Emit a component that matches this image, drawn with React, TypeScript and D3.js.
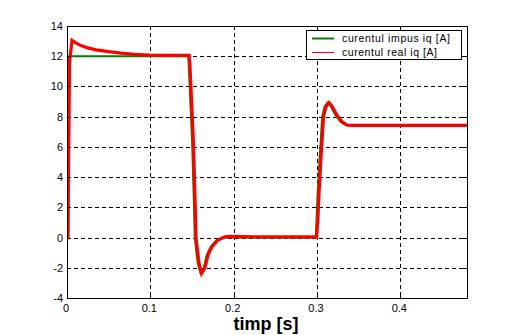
import React from "react";
import * as d3 from "d3";

// time axis and tick values
const xTicks = [0, 0.1, 0.2, 0.3, 0.4];
const yTicks = [-4, -2, 0, 2, 4, 6, 8, 10, 12, 14];

// curentul impus iq [A] (reference)
const tImpus = [0, 0.0015, 0.0015, 0.1455, 0.1462, 0.1485, 0.1503, 0.1521, 0.1533, 0.1545, 0.1569,
    0.1599, 0.1641, 0.1677, 0.1725, 0.1797, 0.188, 0.2985, 0.2996, 0.3008, 0.3020, 0.3032, 0.3044,
    0.3062, 0.3090, 0.3126, 0.3162, 0.3222, 0.3282, 0.3342, 0.3402, 0.48];
const iImpus = [0, 0, 12, 12, 11.3, 8.4, 6.1, 2.6, 0.05, -0.6, -1.7,
    -2.3, -2.0, -1.15, -0.6, -0.16, 0.0, 0.0, 1.38, 2.93, 4.03, 5.35, 6.34,
    8.0, 8.66, 8.93, 8.7, 8.1, 7.67, 7.45, 7.42, 7.42];

// curentul real iq [A] (measured)
const tReal = [0, 0.0012, 0.0012, 0.003, 0.003, 0.006, 0.010, 0.016, 0.025, 0.035, 0.050, 0.065,
    0.080, 0.100, 0.120, 0.1465, 0.1476, 0.1500, 0.1518, 0.1536, 0.1548, 0.1560, 0.1584, 0.1614,
    0.1656, 0.1692, 0.1740, 0.1812, 0.1896, 0.1956, 0.230, 0.270, 0.2996, 0.3012, 0.3024, 0.3036,
    0.3048, 0.3060, 0.3078, 0.3108, 0.3144, 0.3180, 0.3240, 0.3300, 0.3360, 0.3420, 0.380, 0.430, 0.480];
const iReal = [0, 0, 0.5, 11.6, 11.6, 13.05, 12.9, 12.72, 12.55, 12.42, 12.3, 12.2,
    12.12, 12.07, 12.05, 12.05, 11.3, 8.4, 6.1, 2.6, 0.05, -0.6, -1.7, -2.37,
    -2.0, -1.15, -0.6, -0.16, 0.05, 0.08, 0.05, 0.05, 0.05, 1.38, 2.93, 4.03,
    5.35, 6.34, 8.0, 8.66, 8.93, 8.7, 8.1, 7.67, 7.45, 7.42, 7.42, 7.42, 7.42];

const legendLabels = ["curentul impus iq [A]", "curentul real iq [A]"];
const legendColors = ["#008000", "#ff0000"];
const legendWidths = [108, 95];

const W = 516, H = 335;
const left = 67, right = 467, top = 26, bottom = 298;

export default function App() {
    const x = d3.scaleLinear().domain([0, 0.48]).range([left, right]);
    const y = d3.scaleLinear().domain([-4, 14]).range([bottom, top]);

    const line = d3.line<[number, number]>()
        .x(d => x(d[0]))
        .y(d => y(d[1]));

    const impus = tImpus.map((t, i) => [t, iImpus[i]] as [number, number]);
    const real = tReal.map((t, i) => [t, iReal[i]] as [number, number]);

    const font = "Arial, 'Liberation Sans', sans-serif";

    return (
        <svg width={W} height={H} style={{position: "absolute", left: 0, top: 0, background: "#fff"}}>
            <defs>
                <clipPath id="plot">
                    <rect x={left} y={top} width={right - left} height={bottom - top}/>
                </clipPath>
            </defs>
            <rect x={0} y={0} width={W} height={H} fill="#fff"/>
            {/* grid */}
            {xTicks.filter(t => t > 0).map(t => (
                <line key={"gx" + t} x1={Math.round(x(t)) + 0.5} x2={Math.round(x(t)) + 0.5} y1={top} y2={bottom}
                      stroke="#000" strokeDasharray="4,3" shapeRendering="crispEdges"/>
            ))}
            {yTicks.filter(t => t > -4 && t < 14).map(t => (
                <line key={"gy" + t} x1={left} x2={right} y1={Math.round(y(t)) + 0.5} y2={Math.round(y(t)) + 0.5}
                      stroke="#000" strokeDasharray="4,3" shapeRendering="crispEdges"/>
            ))}
            {/* series */}
            <g clipPath="url(#plot)">
                <path d={line(impus)!} fill="none" stroke="#008000" strokeWidth={2}/>
                <path d={line(real)!} fill="none" stroke="#ff0000" strokeWidth={3.2}/>
            </g>
            {/* axes box */}
            <rect x={left + 0.5} y={top + 0.5} width={right - left} height={bottom - top}
                  fill="none" stroke="#000" strokeWidth={1} shapeRendering="crispEdges"/>
            {xTicks.map(t => (
                <g key={"tx" + t}>
                    <line x1={Math.round(x(t)) + 0.5} x2={Math.round(x(t)) + 0.5} y1={bottom} y2={bottom - 4} stroke="#000" shapeRendering="crispEdges"/>
                    <line x1={Math.round(x(t)) + 0.5} x2={Math.round(x(t)) + 0.5} y1={top} y2={top + 4} stroke="#000" shapeRendering="crispEdges"/>
                    <text x={x(t) - 1} y={311.5} textAnchor="middle" fontFamily={font} fontSize={11}>{t}</text>
                </g>
            ))}
            {yTicks.map(t => (
                <g key={"ty" + t}>
                    <line x1={left} x2={left + 4} y1={Math.round(y(t)) + 0.5} y2={Math.round(y(t)) + 0.5} stroke="#000" shapeRendering="crispEdges"/>
                    <line x1={right - 4} x2={right} y1={Math.round(y(t)) + 0.5} y2={Math.round(y(t)) + 0.5} stroke="#000" shapeRendering="crispEdges"/>
                    <text x={63} y={y(t) + 4} textAnchor="end" fontFamily={font} fontSize={11}>{t}</text>
                </g>
            ))}
            {/* x label */}
            <text x={266} y={330} textAnchor="middle" fontFamily={font} fontSize={18} fontWeight="bold">timp [s]</text>
            {/* legend */}
            <rect x={306.5} y={30.5} width={155} height={29} fill="#fff" stroke="#000" shapeRendering="crispEdges"/>
            {legendLabels.map((lab, i) => (
                <g key={lab}>
                    <line x1={312} x2={334} y1={38.5 + i * 14} y2={38.5 + i * 14} stroke={legendColors[i]} strokeWidth={i === 0 ? 2 : 1}/>
                    <text x={342} y={42 + i * 14} fontFamily={font} fontSize={10.5}
                          textLength={legendWidths[i]} lengthAdjust="spacing">{lab}</text>
                </g>
            ))}
        </svg>
    );
}
